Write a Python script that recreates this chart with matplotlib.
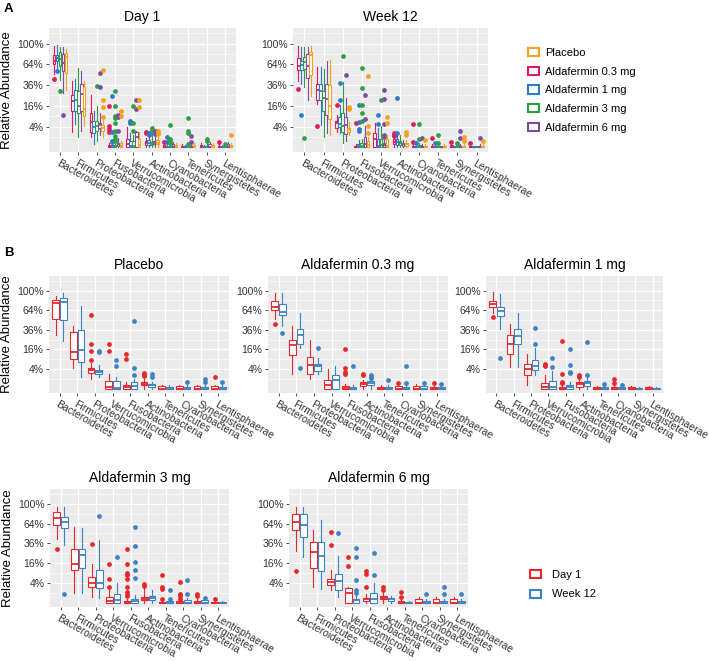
import numpy as np
import matplotlib
matplotlib.use("Agg")
import matplotlib.pyplot as plt
from matplotlib.patches import Patch

plt.rcParams["font.family"] = ["Liberation Sans", "DejaVu Sans"]

# phyla in the order of panel A; panel B swaps a few of them
PHYLA = ["Bacteroidetes", "Firmicutes", "Proteobacteria", "Fusobacteria", "Verrucomicrobia",
         "Actinobacteria", "Cyanobacteria", "Tenericutes", "Synergistetes", "Lentisphaerae"]
ORDER_B = [0, 1, 2, 4, 3, 5, 7, 6, 8, 9]

YTICKS = [4, 16, 36, 64, 100]
YMINOR = [1, 9, 25, 49, 81, 121]

# box stats in % : (whisker low, q1, median, q3, whisker high), one row per phylum
PLACEBO_D1 = [(30, 51, 76, 82, 89), (4.3, 9, 14, 34, 41), (1, 2.6, 3.6, 4.5, 6.7),
              (0, 0, 0.02, 0.15, 0.4), (0, 0, 0.04, 0.6, 2.1), (0, 0.1, 0.2, 0.5, 1.0),
              (0, 0, 0, 0.05, 0.15), (0, 0, 0, 0.05, 0.15), (0, 0, 0, 0.05, 0.15), (0, 0, 0, 0.05, 0.15)]
PLACEBO_D1_OUT = [[], [], [56, 21, 15, 8.5], [12.5, 9], [21, 15], [2.5, 2.0, 1.6], [], [], [], [1.3]]

PLACEBO_W12 = [(24, 49, 79, 85, 95), (1.5, 7.5, 15.5, 36, 71), (1.5, 2.1, 2.9, 3.6, 5.8),
               (0, 0, 0.05, 0.4, 1.0), (0, 0, 0.01, 0.6, 1.5), (0, 0.02, 0.1, 0.2, 0.5),
               (0, 0, 0, 0.02, 0.1), (0, 0, 0, 0.02, 0.1), (0, 0, 0, 0.02, 0.1), (0, 0, 0, 0.02, 0.1)]
PLACEBO_W12_OUT = [[], [], [15, 13.7], [47.6, 4.3, 1.9], [8.5, 5.5], [2.3, 1.5], [0.5], [], [0.9, 0.4], [0.4]]

ALDA03_D1 = [(50, 65, 70, 80, 95), (2.2, 12, 20, 25, 41), (1, 2.2, 6, 10.7, 25),
             (0, 0, 0.01, 0.05, 0.2), (0, 0, 0.1, 0.7, 4), (0, 0.05, 0.2, 0.4, 0.8),
             (0, 0, 0, 0.05, 0.2), (0, 0, 0, 0.02, 0.1), (0, 0, 0, 0.05, 0.2), (0, 0, 0, 0.02, 0.1)]
ALDA03_D1_OUT = [[44], [], [], [16, 4.4, 3, 2.2], [], [2.2, 1.8], [0.3], [], [], [0.3]]

ALDA03_W12 = [(41, 56, 61, 74, 95), (17.5, 21, 30, 37, 60), (2.2, 3.4, 5.5, 6.3, 9.7),
              (0, 0, 0, 0.02, 0.1), (0, 0, 0.7, 2, 5.5), (0, 0.1, 0.3, 0.6, 1.0),
              (0, 0, 0, 0.02, 0.1), (0, 0, 0, 0.02, 0.1), (0, 0, 0, 0.05, 0.15), (0, 0, 0, 0.02, 0.1)]
ALDA03_W12_OUT = [[32], [4.4], [17], [5.5], [], [2.0, 1.5, 1.2], [5.1, 0.3], [0.8], [0.3], [0.2]]

ALDA1_D1 = [(59, 69, 74, 80, 97), (5, 12.5, 21, 30, 43), (0.13, 1.8, 4, 6.5, 12.5),
            (0, 0, 0, 0.04, 0.1), (0, 0, 0.02, 0.35, 1.8), (0, 0.04, 0.2, 0.5, 1.1),
            (0, 0, 0, 0.02, 0.1), (0, 0, 0, 0.02, 0.05), (0, 0, 0, 0.02, 0.05), (0, 0, 0, 0.02, 0.05)]
ALDA1_D1_OUT = [[54], [], [], [24, 2.3, 0.4, 0.3], [6.5, 5.9, 5.4], [2.0, 1.5], [1.0, 0.3], [], [], []]

ALDA1_W12 = [(37, 55, 63.5, 69, 94), (4.7, 21, 29, 37, 60), (1.8, 3.7, 5.1, 8.3, 17),
             (0, 0, 0.02, 0.13, 0.5), (0, 0, 0.02, 0.6, 3.4), (0, 0.05, 0.3, 0.6, 1.7),
             (0, 0, 0, 0.02, 0.1), (0, 0, 0, 0.02, 0.1), (0, 0, 0, 0.01, 0.02), (0, 0, 0, 0.01, 0.02)]
ALDA1_W12_OUT = [[10], [], [38, 21], [16.5, 6, 3, 2.5], [10, 5], [23, 2], [0.15], [0.2], [], []]

ALDA3_D1 = [(42, 62, 73, 85, 94), (1, 11, 15.6, 29, 59), (0.35, 2.6, 4.1, 6.6, 15.6),
            (0, 0, 0, 0.04, 0.1), (0, 0, 0.03, 0.35, 1.5), (0, 0.07, 0.12, 0.3, 2.4),
            (0, 0, 0, 0.02, 0.1), (0, 0, 0, 0.01, 0.05), (0, 0, 0, 0.02, 0.1), (0, 0, 0, 0.01, 0.05)]
ALDA3_D1_OUT = [[29], [], [35], [29, 15.6, 9, 8, 5.5, 2.4, 1.1, 0.6, 0.4], [15.6, 5.5, 2.4],
                [3.5, 2.9], [4.5, 0.7, 0.4, 0.15], [8, 2.4, 2, 0.1], [0.7, 0.4], [0.1]]

ALDA3_W12 = [(34, 57, 67, 75, 94), (1, 12, 23, 29, 57), (0.2, 2.1, 4.1, 11, 40),
             (0, 0, 0.02, 0.15, 0.6), (0, 0, 0.05, 0.67, 4.1), (0, 0.07, 0.2, 0.4, 1.5),
             (0, 0, 0, 0.05, 0.2), (0, 0, 0, 0.02, 0.1), (0, 0, 0, 0.05, 0.15), (0, 0, 0, 0.01, 0.03)]
ALDA3_W12_OUT = [[0.8], [], [77], [58, 33, 17, 11, 6.3], [21], [], [5.2, 0.7], [1.5, 0.15], [0.2], []]

ALDA6_D1 = [(27, 54, 66, 81, 94), (2.6, 12, 26, 37, 54), (1.5, 3.3, 4.5, 5.5, 11),
            (0, 0.02, 0.1, 0.2, 0.8), (0, 0, 1, 2.1, 2.6), (0, 0.1, 0.2, 0.4, 1.2),
            (0, 0, 0, 0.1, 0.3), (0, 0, 0, 0.02, 0.1), (0, 0, 0, 0.1, 0.3), (0, 0, 0, 0.1, 0.3)]
ALDA6_D1_OUT = [[10], [], [51, 34], [10, 8.4, 2.4], [21, 14], [2.4, 1.7], [], [1.1, 0.3], [], []]

ALDA6_W12 = [(21, 44.5, 62, 81, 94), (1.9, 10, 22, 37, 70), (0.35, 1.7, 4.8, 8.6, 22.6),
             (0, 0, 0.1, 1, 4.1), (0, 0, 0.05, 0.15, 0.5), (0, 0.03, 0.1, 0.2, 0.5),
             (0, 0, 0, 0.02, 0.1), (0, 0, 0, 0.01, 0.03), (0, 0, 0, 0.02, 0.1), (0, 0, 0, 0.02, 0.1)]
ALDA6_W12_OUT = [[], [], [49], [25, 7.7], [31, 21.7, 5.2, 1.5, 1], [], [0.8], [], [2.4, 0.8], [0.8]]

DOSES = ["Placebo", "Aldafermin 0.3 mg", "Aldafermin 1 mg", "Aldafermin 3 mg", "Aldafermin 6 mg"]
DAY1 = [(PLACEBO_D1, PLACEBO_D1_OUT), (ALDA03_D1, ALDA03_D1_OUT), (ALDA1_D1, ALDA1_D1_OUT),
        (ALDA3_D1, ALDA3_D1_OUT), (ALDA6_D1, ALDA6_D1_OUT)]
WEEK12 = [(PLACEBO_W12, PLACEBO_W12_OUT), (ALDA03_W12, ALDA03_W12_OUT), (ALDA1_W12, ALDA1_W12_OUT),
          (ALDA3_W12, ALDA3_W12_OUT), (ALDA6_W12, ALDA6_W12_OUT)]

DOSE_COLORS = ["#F5A11C", "#E2195B", "#2C7BCB", "#2EA043", "#7D4E9F"]
DODGE_ORDER = [1, 2, 3, 4, 0]  # 0.3, 1, 3, 6 mg, then placebo
VISIT_COLORS = ["#E8262B", "#3E82C4"]

W, H = 709, 661


def sqrt_fwd(x):
    x = np.asarray(x, dtype=float)
    return np.sign(x) * np.sqrt(np.abs(x))


def sqrt_inv(y):
    y = np.asarray(y, dtype=float)
    return np.sign(y) * y ** 2


def px_axes(fig, x0, y0, x1, y1):
    return fig.add_axes([x0 / W, 1 - y1 / H, (x1 - x0) / W, (y1 - y0) / H])


def style_panel(ax, phyla, title, ylabel=False):
    ax.set_facecolor("#EBEBEB")
    ax.set_yscale("function", functions=(sqrt_fwd, sqrt_inv))
    ax.set_ylim(float(sqrt_inv(-0.45)), float(sqrt_inv(11.5)))
    ax.set_yticks(YTICKS)
    ax.set_yticklabels([f"{v}%" for v in YTICKS])
    ax.set_yticks(YMINOR, minor=True)
    ax.set_xticks(range(len(phyla)))
    ax.set_xticklabels(phyla, rotation=-30, ha="left", va="top", rotation_mode="anchor", fontsize=6.7)
    ax.set_xlim(-0.6, 9.6)
    ax.grid(which="major", color="white", lw=0.9)
    ax.grid(which="minor", axis="y", color="white", lw=0.45)
    ax.set_axisbelow(True)
    for s in ax.spines.values():
        s.set_visible(False)
    ax.tick_params(which="major", length=2.5, width=0.6, color="#333333", labelsize=7.5,
                   labelcolor="#333333", pad=1.5)
    ax.tick_params(axis="x", which="major", pad=2)
    ax.tick_params(which="minor", length=0)
    ax.set_title(title, fontsize=10, pad=5)
    if ylabel:
        ax.set_ylabel("Relative Abundance", fontsize=9.5, labelpad=3)


def draw_boxes(ax, series, outs, order, color, offset, width):
    stats = []
    for k in order:
        lo, q1, med, q3, hi = series[k]
        stats.append(dict(whislo=lo, q1=q1, med=med, q3=q3, whishi=hi, fliers=outs[k]))
    ax.bxp(stats, positions=np.arange(len(order)) + offset, widths=width, patch_artist=True,
           showcaps=False, manage_ticks=False,
           boxprops=dict(facecolor="white", edgecolor=color, lw=0.8),
           whiskerprops=dict(color=color, lw=0.8),
           medianprops=dict(color=color, lw=1.3),
           flierprops=dict(marker="o", markersize=2.4, markerfacecolor=color,
                           markeredgecolor=color, lw=0))


fig = plt.figure(figsize=(W / 100, H / 100), dpi=100)

# panel A: all doses per visit
top_rects = [(49, 28, 236, 152), (293, 28, 488, 152)]
for rect, visit, title, first in zip(top_rects, [DAY1, WEEK12], ["Day 1", "Week 12"], [True, False]):
    ax = px_axes(fig, *rect)
    style_panel(ax, PHYLA, title, ylabel=first)
    for j, d in enumerate(DODGE_ORDER):
        series, outs = visit[d]
        draw_boxes(ax, series, outs, range(10), DOSE_COLORS[d], (j - 2) * 0.16, 0.14)

# panel B: Day 1 vs Week 12 per dose
b_rects = [(49, 276, 229, 393), (268, 276, 448, 393), (486, 276, 663, 393),
           (50, 489, 229, 607), (289, 489, 468, 607)]
phyla_b = [PHYLA[k] for k in ORDER_B]
for i, rect in enumerate(b_rects):
    ax = px_axes(fig, *rect)
    style_panel(ax, phyla_b, DOSES[i], ylabel=i in (0, 3))
    for v, visit in enumerate([DAY1, WEEK12]):
        series, outs = visit[i]
        draw_boxes(ax, series, outs, ORDER_B, VISIT_COLORS[v], -0.22 if v == 0 else 0.22, 0.38)

fig.text(4 / W, 1 - 9 / H, "A", fontsize=9.5, fontweight="bold", va="center")
fig.text(4 / W, 1 - 253 / H, "B", fontsize=9.5, fontweight="bold", va="center")

dose_handles = [Patch(facecolor="white", edgecolor=c, lw=1.5) for c in DOSE_COLORS]
fig.legend(dose_handles, DOSES, loc="upper left", bbox_to_anchor=(528 / W, 1 - 48 / H),
           frameon=False, fontsize=8, handlelength=1.0, handleheight=0.75,
           handletextpad=0.5, labelspacing=0.78, borderpad=0, borderaxespad=0)

visit_handles = [Patch(facecolor="white", edgecolor=c, lw=1.5) for c in VISIT_COLORS]
fig.legend(visit_handles, ["Day 1", "Week 12"], loc="upper left", bbox_to_anchor=(530 / W, 1 - 570 / H),
           frameon=False, fontsize=8, handlelength=1.0, handleheight=0.75,
           handletextpad=1.0, labelspacing=0.85, borderpad=0, borderaxespad=0)

fig.savefig("out.png", dpi=100)
